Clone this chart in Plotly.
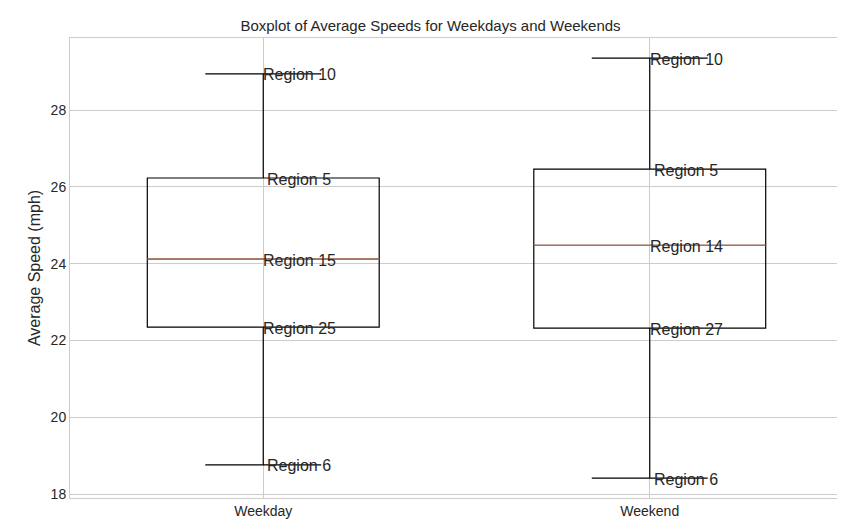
import plotly.graph_objects as go

categories = ["Weekday", "Weekend"]
positions = [1, 2]
q1 = [22.35, 22.32]
median = [24.12, 24.48]
q3 = [26.23, 26.46]
lower = [18.76, 18.42]
upper = [28.94, 29.35]
labels_upper = ["Region 10", "Region 10"]
labels_q3 = ["Region 5", "Region 5"]
labels_med = ["Region 15", "Region 14"]
labels_q1 = ["Region 25", "Region 27"]
labels_lower = ["Region 6", "Region 6"]

FONT = "Liberation Sans"
BW = 0.6
fig = go.Figure()
for i, p in enumerate(positions):
    fig.add_trace(go.Box(x=[p], q1=[q1[i]], median=[median[i]], q3=[q3[i]],
                         lowerfence=[lower[i]], upperfence=[upper[i]],
                         width=BW, whiskerwidth=0.5, fillcolor="rgba(0,0,0,0)",
                         line=dict(color="black", width=1.2), showlegend=False,
                         hoverinfo="skip"))
    fig.add_trace(go.Scatter(x=[p - BW / 2, p + BW / 2], y=[median[i]] * 2, mode="lines",
                             line=dict(color="#d9805a", width=1.2), showlegend=False))
    for val, lab, sh in [(upper[i], labels_upper[i], 0), (q3[i], labels_q3[i], 4),
                         (median[i], labels_med[i], 0), (q1[i], labels_q1[i], 0),
                         (lower[i], labels_lower[i], 4)]:
        fig.add_annotation(x=p, y=val, text=lab, showarrow=False, xanchor="left",
                           yanchor="middle", xshift=sh - 2, yshift=-1,
                           font=dict(size=16, color="#262626", family=FONT))

fig.update_layout(
    width=845, height=529, plot_bgcolor="white", paper_bgcolor="white",
    margin=dict(l=62, r=10, t=30, b=39),
    title=dict(text="Boxplot of Average Speeds for Weekdays and Weekends", x=0.5, y=0.967,
               xanchor="center", yanchor="middle", font=dict(size=15, color="#262626")),
    font=dict(family=FONT, color="#262626"),
    xaxis=dict(range=[0.5, 2.5], tickvals=positions, ticktext=categories, showgrid=True,
               gridcolor="#cccccc", showline=True, linecolor="#cccccc", mirror=True,
               zeroline=False, tickfont=dict(size=14), automargin=False),
    yaxis=dict(range=[17.9, 29.875], tickvals=[18, 20, 22, 24, 26, 28], showgrid=True,
               gridcolor="#cccccc", showline=True, linecolor="#cccccc", mirror=True,
               zeroline=False, tickfont=dict(size=14), automargin=False,
               title=dict(text="Average Speed (mph)", font=dict(size=16), standoff=6)),
)
fig.write_html("out.html")
